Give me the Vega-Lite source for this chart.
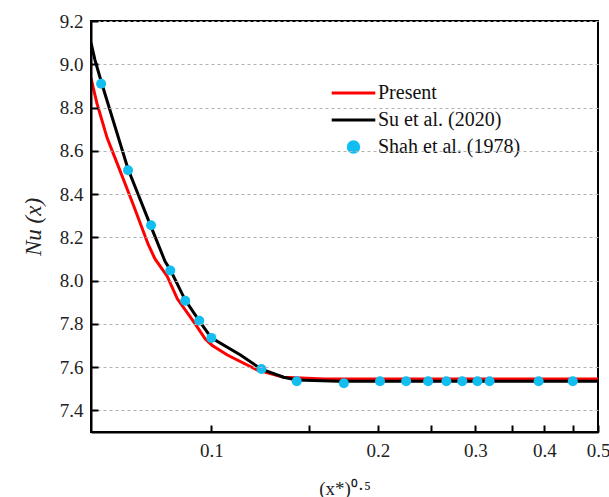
{
  "$schema": "https://vega.github.io/schema/vega-lite/v6.json",
  "autosize": "none",
  "width": 507,
  "height": 411,
  "padding": {"left": 91, "top": 21, "right": 11, "bottom": 65},
  "background": "white",
  "view": {"stroke": "black", "strokeWidth": 2},
  "datasets": {
    "lines": [
      {"series": "Present", "x": 0.0606, "y": 8.935},
      {"series": "Present", "x": 0.0621, "y": 8.82},
      {"series": "Present", "x": 0.0648, "y": 8.66},
      {"series": "Present", "x": 0.0684, "y": 8.507},
      {"series": "Present", "x": 0.0722, "y": 8.353},
      {"series": "Present", "x": 0.0769, "y": 8.167},
      {"series": "Present", "x": 0.0791, "y": 8.10},
      {"series": "Present", "x": 0.0832, "y": 8.02},
      {"series": "Present", "x": 0.0868, "y": 7.916},
      {"series": "Present", "x": 0.0935, "y": 7.80},
      {"series": "Present", "x": 0.0975, "y": 7.73},
      {"series": "Present", "x": 0.1004, "y": 7.70},
      {"series": "Present", "x": 0.1069, "y": 7.656},
      {"series": "Present", "x": 0.1212, "y": 7.586},
      {"series": "Present", "x": 0.1351, "y": 7.553},
      {"series": "Present", "x": 0.16, "y": 7.545},
      {"series": "Present", "x": 0.5, "y": 7.545},
      {"series": "Su et al. (2020)", "x": 0.0606, "y": 9.10},
      {"series": "Su et al. (2020)", "x": 0.0616, "y": 9.02},
      {"series": "Su et al. (2020)", "x": 0.0634, "y": 8.91},
      {"series": "Su et al. (2020)", "x": 0.0707, "y": 8.516},
      {"series": "Su et al. (2020)", "x": 0.0775, "y": 8.26},
      {"series": "Su et al. (2020)", "x": 0.0825, "y": 8.088},
      {"series": "Su et al. (2020)", "x": 0.0843, "y": 8.05},
      {"series": "Su et al. (2020)", "x": 0.0897, "y": 7.91},
      {"series": "Su et al. (2020)", "x": 0.0951, "y": 7.814},
      {"series": "Su et al. (2020)", "x": 0.1, "y": 7.735},
      {"series": "Su et al. (2020)", "x": 0.1129, "y": 7.656},
      {"series": "Su et al. (2020)", "x": 0.1232, "y": 7.59},
      {"series": "Su et al. (2020)", "x": 0.1351, "y": 7.553},
      {"series": "Su et al. (2020)", "x": 0.1427, "y": 7.54},
      {"series": "Su et al. (2020)", "x": 0.17, "y": 7.535},
      {"series": "Su et al. (2020)", "x": 0.5, "y": 7.535}
    ],
    "points": [
      {"series": "Shah et al. (1978)", "x": 0.0632, "y": 8.91},
      {"series": "Shah et al. (1978)", "x": 0.0707, "y": 8.51},
      {"series": "Shah et al. (1978)", "x": 0.0778, "y": 8.256},
      {"series": "Shah et al. (1978)", "x": 0.0843, "y": 8.047},
      {"series": "Shah et al. (1978)", "x": 0.0897, "y": 7.907},
      {"series": "Shah et al. (1978)", "x": 0.0951, "y": 7.814},
      {"series": "Shah et al. (1978)", "x": 0.1, "y": 7.735},
      {"series": "Shah et al. (1978)", "x": 0.1232, "y": 7.591},
      {"series": "Shah et al. (1978)", "x": 0.1427, "y": 7.535},
      {"series": "Shah et al. (1978)", "x": 0.1736, "y": 7.525},
      {"series": "Shah et al. (1978)", "x": 0.2018, "y": 7.535},
      {"series": "Shah et al. (1978)", "x": 0.2250, "y": 7.535},
      {"series": "Shah et al. (1978)", "x": 0.2466, "y": 7.535},
      {"series": "Shah et al. (1978)", "x": 0.2660, "y": 7.535},
      {"series": "Shah et al. (1978)", "x": 0.2842, "y": 7.535},
      {"series": "Shah et al. (1978)", "x": 0.3027, "y": 7.535},
      {"series": "Shah et al. (1978)", "x": 0.3184, "y": 7.535},
      {"series": "Shah et al. (1978)", "x": 0.3906, "y": 7.535},
      {"series": "Shah et al. (1978)", "x": 0.4501, "y": 7.535}
    ]
  },
  "encoding": {
    "x": {
      "field": "x", "type": "quantitative",
      "scale": {"type": "log", "domain": [0.0606, 0.5], "nice": false},
      "axis": {
        "title": "(x*)⁰·⁵", "titleFont": "Liberation Serif", "titleFontSize": 19, "titleFontWeight": "normal", "titleColor": "#222", "titlePadding": 19,
        "values": [0.1, 0.15, 0.2, 0.25, 0.3, 0.35, 0.4, 0.45, 0.5],
        "labelExpr": "round(datum.value*20) % 2 == 0 ? format(datum.value, '.1f') : ''",
        "labelFont": "Liberation Serif", "labelFontSize": 19, "labelColor": "#222",
        "domainColor": "black", "domainWidth": 2,
        "tickColor": "black", "tickWidth": 2, "tickSize": -7,
        "labelPadding": 16, "labelFlush": false, "grid": false, "zindex": 1
      }
    },
    "y": {
      "field": "y", "type": "quantitative",
      "scale": {"domain": [7.3, 9.2], "nice": false, "zero": false},
      "axis": {
        "title": "Nu (x)", "titleFont": "Liberation Serif", "titleFontSize": 23, "titleFontStyle": "italic", "titleFontWeight": "normal", "titleColor": "#222", "titlePadding": 14,
        "values": [7.4, 7.6, 7.8, 8.0, 8.2, 8.4, 8.6, 8.8, 9.0, 9.2],
        "format": ".1f",
        "labelFont": "Liberation Serif", "labelFontSize": 19, "labelColor": "#222",
        "domainColor": "black", "domainWidth": 2,
        "tickColor": "black", "tickWidth": 2, "tickSize": -7,
        "labelPadding": 15,
        "grid": true, "gridColor": "#b0b0b0", "gridDash": [3, 3], "gridWidth": 1, "zindex": 1
      }
    },
    "color": {
      "field": "series", "type": "nominal",
      "scale": {"domain": ["Present", "Su et al. (2020)", "Shah et al. (1978)"], "range": ["#ff0000", "#000000", "#12bdf0"]},
      "legend": {
        "title": null, "orient": "none", "legendX": 239, "legendY": 60,
        "labelFont": "Liberation Serif", "labelFontSize": 20, "labelColor": "#111", "labelOffset": 1, "rowPadding": 3, "clipHeight": 24,
        "symbolSize": 1900, "symbolStrokeWidth": 3,
        "encode": {"symbols": {"update": {
          "shape": {"signal": "datum.value === 'Shah et al. (1978)' ? 'M -0.24,0 A 0.24,0.24 0 1,0 0.24,0 A 0.24,0.24 0 1,0 -0.24,0 Z' : 'stroke'"},
          "fill": {"signal": "datum.value === 'Shah et al. (1978)' ? '#12bdf0' : 'transparent'"},
          "stroke": {"signal": "datum.value === 'Present' ? '#ff0000' : datum.value === 'Su et al. (2020)' ? '#000000' : 'transparent'"},
          "opacity": {"value": 1}
        }}}
      }
    }
  },
  "layer": [
    {
      "data": {"name": "lines"},
      "mark": {"type": "line", "strokeWidth": 3, "clip": true},
      "encoding": {"order": {"field": "x", "type": "quantitative"}}
    },
    {
      "data": {"name": "points"},
      "mark": {"type": "circle", "size": 100, "opacity": 1}
    }
  ]
}
